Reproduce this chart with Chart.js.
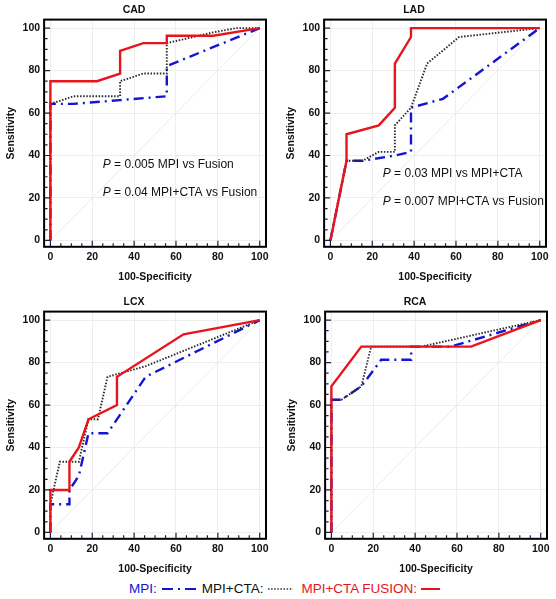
<!DOCTYPE html>
<html>
<head>
<meta charset="utf-8">
<script src="https://cdn.jsdelivr.net/npm/chart.js@4.4.1/dist/chart.umd.min.js"></script>
<style>
  body { margin: 0; background: #fff; width: 556px; height: 599px; position: relative; overflow: hidden;
         font-family: "Liberation Sans", Arial, Helvetica, sans-serif; }
  canvas.panel { position: absolute; }
  #legend { position: absolute; left: 129px; top: 580px; height: 17px; font-size: 13.5px; line-height: 17px;
            white-space: nowrap; display: flex; align-items: center; }
</style>
</head>
<body>
<canvas class="panel" id="cad" width="278" height="284" style="left:0;top:0"></canvas>
<canvas class="panel" id="lad" width="278" height="284" style="left:280px;top:0"></canvas>
<canvas class="panel" id="lcx" width="278" height="284" style="left:0;top:292px"></canvas>
<canvas class="panel" id="rca" width="278" height="284" style="left:281px;top:292px"></canvas>

<div id="legend">
  <span style="color:#1414d2">MPI:</span>
  <svg width="34" height="6" style="margin:0 6px 0 5px"><line x1="0" y1="3" x2="34" y2="3" stroke="#1414d2" stroke-width="2.2" stroke-dasharray="11 5 2 5"/></svg>
  <span style="color:#111">MPI+CTA:</span>
  <svg width="25" height="6" style="margin:0 8px 0 5px"><line x1="0" y1="3" x2="25" y2="3" stroke="#333" stroke-width="1.6" stroke-dasharray="1.5 1.6"/></svg>
  <span style="color:#e8141c">MPI+CTA FUSION:</span>
  <svg width="19" height="6" style="margin:0 0 0 4px"><line x1="0" y1="3" x2="19" y2="3" stroke="#e8141c" stroke-width="2"/></svg>
</div>

<script>
// ROC curves, [100-specificity, sensitivity]
const cadMpi = [[0,0],[0,64.3],[11.1,64.3],[33.3,66.1],[55.6,67.9],[55.6,82.1],[100,100]];
const cadCta = [[0,0],[0,64.3],[11.1,67.9],[33.3,67.9],[33.3,75],[44.4,78.6],[55.6,78.6],[55.6,92.9],[77.8,98],[88.9,100],[100,100]];
const cadFusion = [[0,0],[0,75],[22.2,75],[33.3,78.6],[33.3,89.3],[44.4,92.9],[55.6,92.9],[55.6,96.4],[77.8,96.4],[100,100]];

const ladMpi = [[0,0],[7.7,37.5],[15.4,37.5],[30.8,40],[38.5,41.7],[38.5,62.5],[53.8,66.7],[100,100]];
const ladCta = [[0,0],[7.7,37.5],[15.4,37.5],[23.1,41.7],[30.8,41.7],[30.8,54.2],[38.5,62.5],[46.2,83.3],[61.5,95.8],[100,100]];
const ladFusion = [[0,0],[7.7,37.5],[7.7,50],[23.1,54.2],[30.8,62.5],[30.8,83.3],[38.5,95.8],[38.5,100],[100,100]];

const lcxMpi = [[0,0],[0,13.3],[9.1,13.3],[9.1,20],[13.6,26.7],[18.2,46.7],[27.3,46.7],[45.5,73.3],[100,100]];
const lcxCta = [[0,0],[0,13.3],[4.5,33.3],[13.6,33.3],[18.2,53.3],[22.7,53.3],[27.3,73.3],[45.5,78.3],[100,100]];
const lcxFusion = [[0,0],[0,20],[9.1,20],[9.1,33.3],[13.6,40],[18.2,53.3],[31.8,60],[31.8,73.3],[63.6,93.3],[100,100]];

const rcaMpi = [[0,0],[0,62.5],[4.8,62.5],[14.3,68.8],[23.8,81.3],[38.1,81.3],[38.1,87.5],[57.1,87.5],[100,100]];
const rcaCta = [[0,0],[0,62.5],[4.8,62.5],[14.3,68.8],[19,87.5],[42.9,87.5],[100,100]];
const rcaFusion = [[0,0],[0,68.8],[14.3,87.5],[66.7,87.5],[100,100]];

const chanceLine = [[0,0],[100,100]];
const axisTicks = [0, 20, 40, 60, 80, 100];

const cadNotes = ['= 0.005 MPI vs Fusion', '= 0.04 MPI+CTA vs Fusion'];
const ladNotes = ['= 0.03 MPI vs MPI+CTA', '= 0.007 MPI+CTA vs Fusion'];

const FONT = '"Liberation Sans", Arial, Helvetica, sans-serif';
const boldFont = { family: FONT, size: 10.5, weight: 'bold' };

function pts(arr) {
  return arr.map(p => ({ x: p[0], y: p[1] }));
}

// frame + inward tick marks, like the original plotting program
const frameTicks = {
  id: 'frameTicks',
  afterDatasetsDraw(chart) {
    const { ctx, chartArea: a, scales: { x, y } } = chart;
    ctx.save();
    ctx.strokeStyle = '#1d1d4a';
    ctx.lineWidth = 1.2;
    ctx.beginPath();
    for (let v = 0; v <= 100; v += 5) {
      const len = v % 20 === 0 ? 6 : 3.5;
      const px = x.getPixelForValue(v);
      ctx.moveTo(px, a.bottom);
      ctx.lineTo(px, a.bottom - len);
      const py = y.getPixelForValue(v);
      ctx.moveTo(a.left, py);
      ctx.lineTo(a.left + len, py);
    }
    ctx.stroke();
    ctx.strokeStyle = '#000';
    ctx.lineWidth = 2;
    ctx.strokeRect(a.left, a.top, a.right - a.left, a.bottom - a.top);
    ctx.restore();
  }
};

function notesPlugin(lines, nx, nys) {
  return {
    id: 'pNotes',
    afterDraw(chart) {
      if (!lines) return;
      const { ctx, scales: { x, y } } = chart;
      ctx.save();
      ctx.fillStyle = '#111';
      ctx.textBaseline = 'middle';
      lines.forEach((txt, i) => {
        const px = x.getPixelForValue(nx);
        const py = y.getPixelForValue(nys[i]);
        ctx.font = 'italic 12px ' + FONT;
        ctx.fillText('P', px, py);
        const w = ctx.measureText('P ').width;
        ctx.font = '12px ' + FONT;
        ctx.fillText(txt, px + w, py);
      });
      ctx.restore();
    }
  };
}

function makePanel(id, title, mpi, cta, fusion, notes, noteYs) {
  new Chart(document.getElementById(id), {
    type: 'scatter',
    data: {
      datasets: [
        { data: pts(fusion), borderColor: '#e8141c', borderWidth: 2.4 },
        { data: pts(cta), borderColor: '#2a2a2a', borderWidth: 1.9, borderDash: [1.5, 1.6] },
        { data: pts(mpi), borderColor: '#1414d2', borderWidth: 2.4, borderDash: [10, 5, 2, 5] },
        { data: pts(chanceLine), borderColor: '#e6e6e6', borderWidth: 0.8 }
      ]
    },
    options: {
      responsive: false,
      animation: false,
      devicePixelRatio: 1,
      showLine: true,
      elements: { point: { radius: 0, hoverRadius: 0 }, line: { tension: 0, fill: false } },
      layout: { padding: { left: 2, right: 12, top: 1, bottom: 1 } },
      plugins: {
        legend: { display: false },
        tooltip: { enabled: false },
        title: { display: true, text: title, color: '#111', font: boldFont, padding: { top: 3, bottom: 3 } }
      },
      scales: {
        x: {
          type: 'linear', min: -3, max: 103,
          afterBuildTicks: s => { s.ticks = axisTicks.map(v => ({ value: v })); },
          grid: { color: '#eeeeee', lineWidth: 1, drawTicks: false },
          border: { display: false },
          ticks: { color: '#111', font: boldFont, padding: 4, maxRotation: 0 },
          title: { display: true, text: '100-Specificity', color: '#111', font: boldFont, padding: { top: 3, bottom: 0 } }
        },
        y: {
          type: 'linear', min: -3, max: 104,
          afterBuildTicks: s => { s.ticks = axisTicks.map(v => ({ value: v })); },
          grid: { color: '#eeeeee', lineWidth: 1, drawTicks: false },
          border: { display: false },
          ticks: { color: '#111', font: boldFont, padding: 4 },
          title: { display: true, text: 'Sensitivity', color: '#111', font: boldFont, padding: { top: 3, bottom: 1 } }
        }
      }
    },
    plugins: [frameTicks, notesPlugin(notes, 25, noteYs || [])]
  });
}

makePanel('cad', 'CAD', cadMpi, cadCta, cadFusion, cadNotes, [35.6, 22.5]);
makePanel('lad', 'LAD', ladMpi, ladCta, ladFusion, ladNotes, [31.5, 18.4]);
makePanel('lcx', 'LCX', lcxMpi, lcxCta, lcxFusion, null);
makePanel('rca', 'RCA', rcaMpi, rcaCta, rcaFusion, null);
</script>
</body>
</html>
